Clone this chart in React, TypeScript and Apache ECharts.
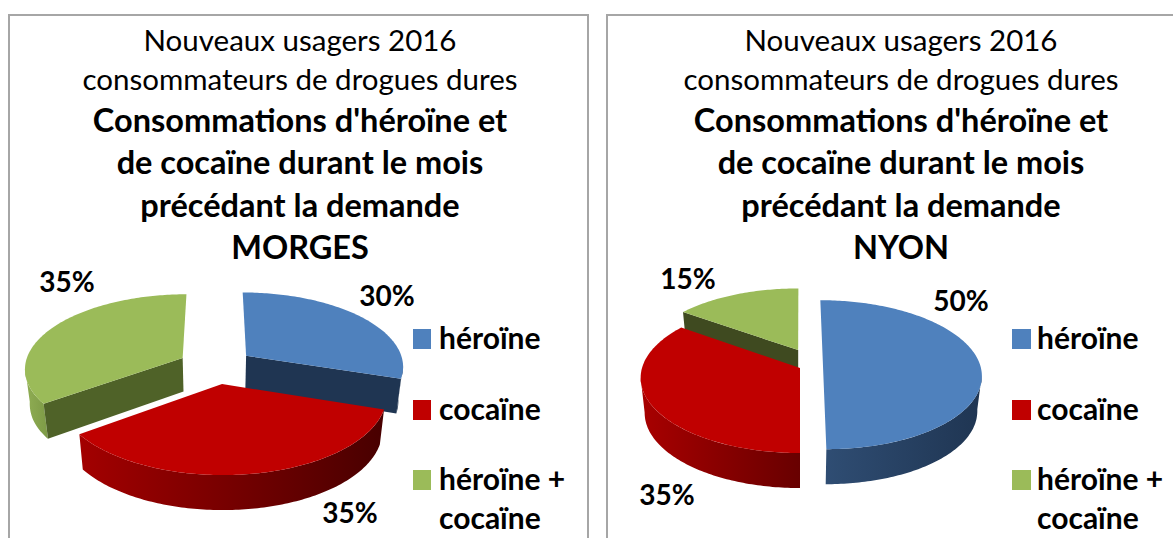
import React, { useEffect, useRef } from "react";
import * as echarts from "echarts";

const categories = ["héroïne", "cocaïne", "héroïne +\ncocaïne"];
const morgesValues = [30, 35, 35];
const nyonValues = [50, 35, 15];
const titleLines = ["Nouveaux usagers 2016", "consommateurs de drogues dures"];
const boldLines = ["Consommations d'héroïne et", "de cocaïne durant le mois", "précédant la demande"];
const placeNames = ["MORGES", "NYON"];
const swatches = ["#4f81bd", "#c00000", "#9bbb59"];

const FONT = "Lato, 'Open Sans', sans-serif";
const R = 158, RK = 74, P = 0.13, H = 34, BOTTOM_X = 0.975;

type Pie = {
  cx: number; cy: number;
  values: number[];
  order: number[];
  offsets: number[][];
  walls: string[];
  rim: string[][];
  labels: number[][];
};

const morges: Pie = {
  cx: 216, cy: 366, values: morgesValues, order: [2, 0, 1],
  offsets: [[0.194, 0.141], [0.037, -0.237], [-0.214, 0.109]],
  walls: ["#1f3552", "#600000", "#4f6228"],
  rim: [["#1f3552", "#1f3552"], ["#a30000", "#480000"], ["#90ae54", "#7d9a46"]],
  labels: [[387, 295], [350, 512], [67, 281]],
};
const nyon: Pie = {
  cx: 800, cy: 368, values: nyonValues, order: [2, 0, 1],
  offsets: [[0.146, 0.04], [0, 0], [-0.012, 0.25]],
  walls: ["#1f3552", "#600000", "#3f4a20"],
  rim: [["#2f4d73", "#1f3552"], ["#a80000", "#680000"], ["#90ae54", "#7d9a46"]],
  labels: [[961, 300], [667, 494], [688, 278]],
};

function project(pie: Pie, X: number, Z: number, low: boolean): number[] {
  const s = 1 / (1 + P * Z);
  const x = X * R * s * (low ? BOTTOM_X : 1);
  const y = -Z * RK * s + (low ? H * Math.min(s, 1.03) : 0);
  return [pie.cx + x, pie.cy + y];
}

function rimPoint(pie: Pie, i: number, deg: number, low: boolean) {
  const t = (deg * Math.PI) / 180;
  const [ox, oz] = pie.offsets[i];
  return project(pie, ox + Math.sin(t), oz + Math.cos(t), low);
}

function arc(pie: Pie, i: number, a: number, b: number, low: boolean) {
  const pts: number[][] = [];
  const n = Math.max(2, Math.ceil(Math.abs(b - a)));
  for (let k = 0; k <= n; k++) pts.push(rimPoint(pie, i, a + ((b - a) * k) / n, low));
  return pts;
}

function renderSlice(pie: Pie) {
  return (_params: any, api: any) => {
    const i = api.value(0) as number;
    const total = pie.values.reduce((s, v) => s + v, 0);
    const before = pie.values.slice(0, i).reduce((s, v) => s + v, 0);
    const a = (before / total) * 360;
    const b = ((before + api.value(1)) / total) * 360;
    const [ox, oz] = pie.offsets[i];
    const top = project(pie, ox, oz, false);
    const bot = project(pie, ox, oz, true);
    const children: any[] = [];

    const fa = Math.max(a, 97.5), fb = Math.min(b, 262.5);
    if (fb > fa) {
      const pts = [...arc(pie, i, fa, fb, false), ...arc(pie, i, fa, fb, true).reverse()];
      children.push({
        type: "polygon", shape: { points: pts },
        style: {
          fill: new echarts.graphic.LinearGradient(0, 0, 1, 0, [
            { offset: 0, color: pie.rim[i][0] },
            { offset: 1, color: pie.rim[i][1] },
          ]),
        },
      });
    }
    const wall = (deg: number) => ({
      type: "polygon",
      shape: { points: [top, rimPoint(pie, i, deg, false), rimPoint(pie, i, deg, true), bot] },
      style: { fill: pie.walls[i] },
    });
    if (Math.sin((a * Math.PI) / 180) < -0.001) children.push(wall(a));
    if (Math.sin((b * Math.PI) / 180) > 0.001) children.push(wall(b));
    children.push({
      type: "polygon",
      shape: { points: [top, ...arc(pie, i, a, b, false)] },
      style: { fill: swatches[i] },
    });
    children.push({
      type: "text",
      z2: 10,
      style: {
        text: `${api.value(1)}%`,
        x: pie.labels[i][0], y: pie.labels[i][1],
        fill: "#000", font: `bold 28px ${FONT}`,
        textAlign: "center", textVerticalAlign: "middle",
      },
    });
    return { type: "group", children };
  };
}

function pieSeries(pie: Pie, name: string) {
  return {
    type: "custom", name, coordinateSystem: "none", silent: true,
    data: pie.order.map((i) => [i, pie.values[i]]),
    renderItem: renderSlice(pie),
  };
}

function panelTitle(place: string, center: number) {
  const text = [
    ...titleLines.map((l) => `{n|${l}}`),
    ...boldLines.map((l) => `{b|${l}}`),
    `{b|${place}}`,
  ].join("\n");
  return {
    text, left: center, top: 20, padding: 0, textAlign: "center",
    textStyle: {
      rich: {
        n: { fontFamily: FONT, fontSize: 29.5, fontWeight: "normal", color: "#000", lineHeight: 39, align: "center" },
        b: { fontFamily: FONT, fontSize: 32.5, fontWeight: "bold", color: "#000", lineHeight: 42.5, align: "center" },
      },
    },
  };
}

function legendGraphics(x: number, textX: number, w: number) {
  const ys = [339, 410, 480];
  const out: any[] = [];
  categories.forEach((c, i) => {
    out.push({ type: "rect", left: x, top: ys[i] - 10, shape: { width: w, height: 20 }, style: { fill: swatches[i] } });
    out.push({
      type: "text", left: textX, top: ys[i] - 22,
      style: { text: c, fill: "#000", font: `bold 30px ${FONT}`, lineHeight: 39 },
    });
  });
  return out;
}

export default function App() {
  const ref = useRef<HTMLDivElement>(null);
  useEffect(() => {
    const chart = echarts.init(ref.current!, undefined, { renderer: "svg" });
    chart.setOption({
      animation: false,
      backgroundColor: "#fff",
      title: [panelTitle(placeNames[0], 300), panelTitle(placeNames[1], 901)],
      graphic: [
        { type: "rect", z: -1, left: 8, top: 14, shape: { width: 579, height: 540 }, style: { fill: "#fff", stroke: "#a6a6a6", lineWidth: 2 } },
        { type: "rect", z: -1, left: 606, top: 14, shape: { width: 600, height: 540 }, style: { fill: "#fff", stroke: "#a6a6a6", lineWidth: 2 } },
        ...legendGraphics(413, 439, 18),
        ...legendGraphics(1012, 1037, 19),
      ],
      series: [pieSeries(morges, placeNames[0]), pieSeries(nyon, placeNames[1])],
    });
    return () => chart.dispose();
  }, []);
  return <div ref={ref} style={{ position: "absolute", left: 0, top: 0, width: 1173, height: 538 }} />;
}
